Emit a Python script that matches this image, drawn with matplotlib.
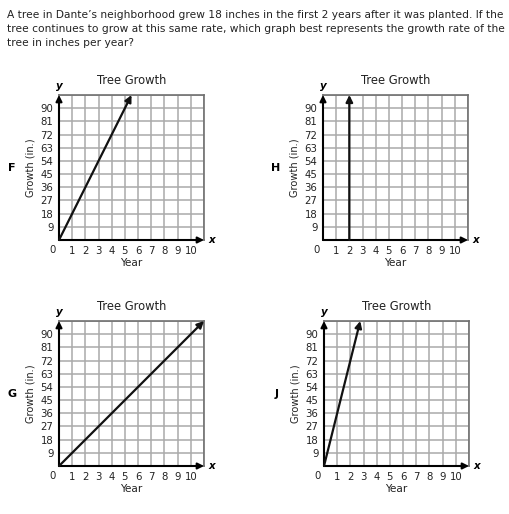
import matplotlib
matplotlib.use("Agg")
import matplotlib.pyplot as plt

# question text
question = [
    "A tree in Dante\u2019s neighborhood grew 18 inches in the first 2 years after it was planted. If the",
    "tree continues to grow at this same rate, which graph best represents the growth rate of the",
    "tree in inches per year?",
]

# answer choices (in reading order) and their lines
choices = ["F", "H", "G", "J"]
slopes = [18, None, 9, 36]      # inches per year, None = vertical line
vertical_x = 2                  # year of the vertical line in choice H

x_ticks = list(range(1, 11))
y_ticks = list(range(9, 91, 9))
x_max, y_max = 11, 99

W, H = 509, 514
fig = plt.figure(figsize=(W / 100, H / 100), dpi=100)

def fx(x):
    return x / W

def fy(y):
    return 1 - y / H

for i, line in enumerate(question):
    fig.text(fx(7), fy(15 + 14 * i), line, fontsize=7.65, va="center", ha="left", color="#222222")

# box positions in pixels: left, top
boxes = [(59, 95), (323, 95), (59, 321), (324, 321)]
bw, bh = 145, 145

for label, slope, (left, top) in zip(choices, slopes, boxes):
    ax = fig.add_axes([fx(left), fy(top + bh), bw / W, bh / H])
    ax.set_xlim(0, x_max)
    ax.set_ylim(0, y_max)
    ax.set_xticks(range(0, x_max + 1))
    ax.set_yticks(range(0, y_max + 1, 9))
    ax.set_xticklabels([""] + [str(t) for t in x_ticks] + [""])
    ax.set_yticklabels([""] + [str(t) for t in y_ticks] + [""])
    ax.tick_params(length=0, labelsize=7.3, pad=4, colors="#222222")
    ax.grid(True, color="#aaaaaa", lw=1.1)
    ax.set_axisbelow(True)
    for s in ax.spines.values():
        s.set_color("#707070")
        s.set_linewidth(1.2)

    # axes with arrows
    ax.annotate("", xy=(x_max, 0), xytext=(0, 0), annotation_clip=False,
                arrowprops=dict(arrowstyle="-|>", color="black", lw=1.5, mutation_scale=9,
                                shrinkA=0, shrinkB=0))
    ax.annotate("", xy=(0, y_max), xytext=(0, 0), annotation_clip=False,
                arrowprops=dict(arrowstyle="-|>", color="black", lw=1.5, mutation_scale=9,
                                shrinkA=0, shrinkB=0))

    # growth line
    if slope is None:
        start, end = (vertical_x, 0), (vertical_x, y_max)
    else:
        start, end = (0, 0), (y_max / slope, y_max)
    ax.annotate("", xy=end, xytext=start, annotation_clip=False,
                arrowprops=dict(arrowstyle="-|>", color="#111111", lw=1.6, mutation_scale=10,
                                shrinkA=0, shrinkB=0))

    ax.set_title("Tree Growth", fontsize=8.3, pad=8, color="#222222")
    ax.set_xlabel("Year", fontsize=7.6, labelpad=2, color="#222222")
    ax.set_ylabel("Growth (in.)", fontsize=7.1, labelpad=4, color="#222222")

    ax.text(-0.5, -7, "0", fontsize=7.3, ha="center", va="center", color="#222222")
    ax.text(x_max + 0.35, 0, "x", fontsize=7.5, style="italic", fontweight="bold",
            ha="left", va="center")
    ax.text(0, y_max + 3, "y", fontsize=7.5, style="italic", fontweight="bold",
            ha="center", va="bottom")
    fig.text(fx(left - 47), fy(top + 73), label, fontsize=8, fontweight="bold",
             ha="center", va="center")

fig.savefig("out.png", dpi=100)
